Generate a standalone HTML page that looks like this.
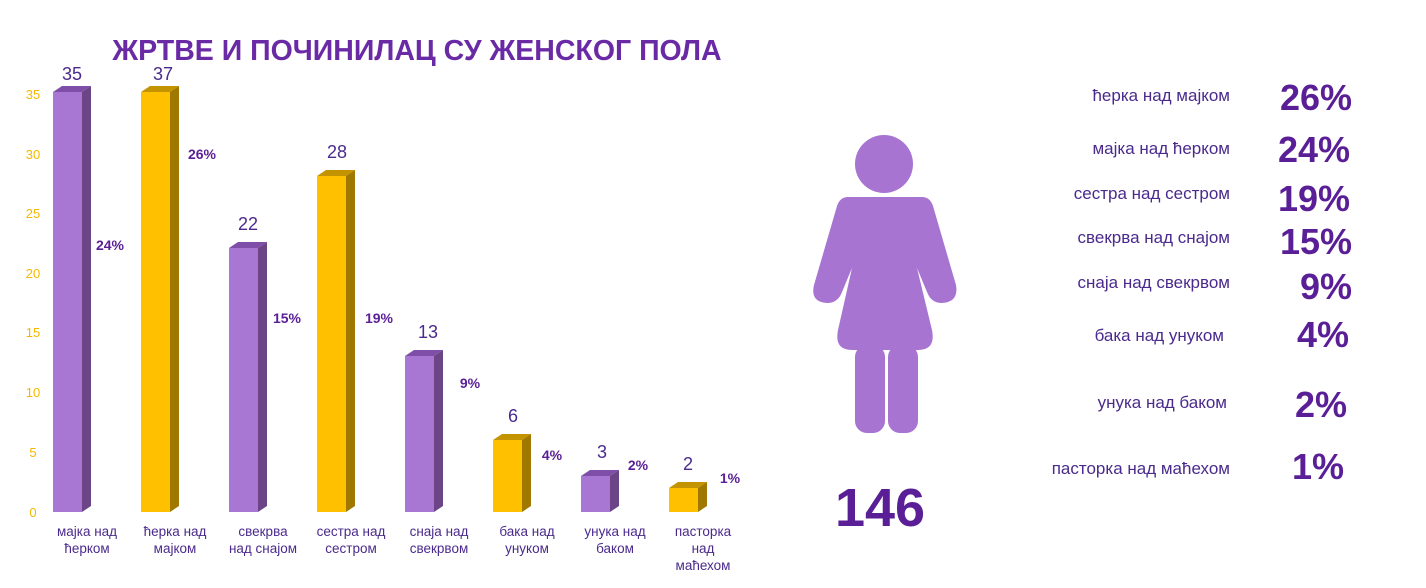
<!DOCTYPE html>
<html><head><meta charset="utf-8"><style>
html,body{margin:0;padding:0;background:#fff;}
svg{display:block;font-family:"Liberation Sans",sans-serif;}
</style></head><body>
<svg width="1426" height="588" viewBox="0 0 1426 588" xmlns="http://www.w3.org/2000/svg">
<text x="417" y="60" text-anchor="middle" font-size="28.5" font-weight="bold" fill="#6b2aa5">ЖРТВЕ И ПОЧИНИЛАЦ СУ ЖЕНСКОГ ПОЛА</text>
<g font-size="13" fill="#f5b800" text-anchor="middle">
<text x="33" y="99">35</text><text x="33" y="159">30</text><text x="33" y="218">25</text><text x="33" y="278">20</text>
<text x="33" y="337">15</text><text x="33" y="397">10</text><text x="33" y="457">5</text><text x="33" y="517">0</text>
</g>
<g>
<polygon points="53,92 62,86 91,86 82,92" fill="#7e4ea8"/><rect x="53" y="92" width="29" height="420" fill="#a877d4"/><polygon points="82,92 91,86 91,506 82,512" fill="#6b4585"/>
<polygon points="229,248 238,242 267,242 258,248" fill="#7e4ea8"/><rect x="229" y="248" width="29" height="264" fill="#a877d4"/><polygon points="258,248 267,242 267,506 258,512" fill="#6b4585"/>
<polygon points="405,356 414,350 443,350 434,356" fill="#7e4ea8"/><rect x="405" y="356" width="29" height="156" fill="#a877d4"/><polygon points="434,356 443,350 443,506 434,512" fill="#6b4585"/>
<polygon points="581,476 590,470 619,470 610,476" fill="#7e4ea8"/><rect x="581" y="476" width="29" height="36" fill="#a877d4"/><polygon points="610,476 619,470 619,506 610,512" fill="#6b4585"/>
<polygon points="141,92 150,86 179,86 170,92" fill="#c49400"/><rect x="141" y="92" width="29" height="420" fill="#ffc000"/><polygon points="170,92 179,86 179,506 170,512" fill="#a07800"/>
<polygon points="317,176 326,170 355,170 346,176" fill="#c49400"/><rect x="317" y="176" width="29" height="336" fill="#ffc000"/><polygon points="346,176 355,170 355,506 346,512" fill="#a07800"/>
<polygon points="493,440 502,434 531,434 522,440" fill="#c49400"/><rect x="493" y="440" width="29" height="72" fill="#ffc000"/><polygon points="522,440 531,434 531,506 522,512" fill="#a07800"/>
<polygon points="669,488 678,482 707,482 698,488" fill="#c49400"/><rect x="669" y="488" width="29" height="24" fill="#ffc000"/><polygon points="698,488 707,482 707,506 698,512" fill="#a07800"/>
</g>
<g font-size="18" fill="#4a2a8c" text-anchor="middle">
<text x="72" y="80">35</text><text x="163" y="80">37</text><text x="248" y="230">22</text><text x="337" y="158">28</text>
<text x="428" y="338">13</text><text x="513" y="422">6</text><text x="602" y="458">3</text><text x="688" y="470">2</text>
</g>
<g font-size="14" font-weight="bold" fill="#5a1f96" text-anchor="middle">
<text x="110" y="250">24%</text><text x="202" y="159">26%</text><text x="287" y="323">15%</text><text x="379" y="323">19%</text>
<text x="470" y="388">9%</text><text x="552" y="460">4%</text><text x="638" y="470">2%</text><text x="730" y="483">1%</text>
</g>
<g font-size="13.5" fill="#4a2a8c" text-anchor="middle">
<text x="87" y="536">мајка над</text><text x="87" y="553">ћерком</text>
<text x="175" y="536">ћерка над</text><text x="175" y="553">мајком</text>
<text x="263" y="536">свекрва</text><text x="263" y="553">над снајом</text>
<text x="351" y="536">сестра над</text><text x="351" y="553">сестром</text>
<text x="439" y="536">снаја над</text><text x="439" y="553">свекрвом</text>
<text x="527" y="536">бака над</text><text x="527" y="553">унуком</text>
<text x="615" y="536">унука над</text><text x="615" y="553">баком</text>
<text x="703" y="536">пасторка</text><text x="703" y="553">над</text><text x="703" y="570">маћехом</text>
</g>
<g fill="#a874d2">
<circle cx="884" cy="164" r="29"/>
<path d="M848,197 L922,197 Q930,197 933,206 L956,285 Q959,302 942,303 Q931,303 927,292 L917,268 L932,330 Q936,350 918,350 L852,350 Q834,350 838,330 L852,268 L842,292 Q838,303 827,303 Q810,302 814,285 L837,206 Q840,197 848,197 Z"/>
<rect x="855" y="345" width="30" height="88" rx="12"/>
<rect x="888" y="345" width="30" height="88" rx="12"/>
</g>
<text x="880" y="526" text-anchor="middle" font-size="54" font-weight="bold" fill="#5a1f96">146</text>
<g font-size="17" fill="#4a2a8c" text-anchor="end">
<text x="1230" y="101">ћерка над мајком</text>
<text x="1230" y="154">мајка над ћерком</text>
<text x="1230" y="199">сестра над сестром</text>
<text x="1230" y="243">свекрва над снајом</text>
<text x="1230" y="288">снаја над свекрвом</text>
<text x="1224" y="341">бака над унуком</text>
<text x="1227" y="408">унука над баком</text>
<text x="1230" y="474">пасторка над маћехом</text>
</g>
<g font-size="36" font-weight="bold" fill="#5a1f96" text-anchor="end">
<text x="1352" y="110">26%</text>
<text x="1350" y="162">24%</text>
<text x="1350" y="211">19%</text>
<text x="1352" y="254">15%</text>
<text x="1352" y="299">9%</text>
<text x="1349" y="347">4%</text>
<text x="1347" y="417">2%</text>
<text x="1344" y="479">1%</text>
</g>
</svg>
</body></html>
